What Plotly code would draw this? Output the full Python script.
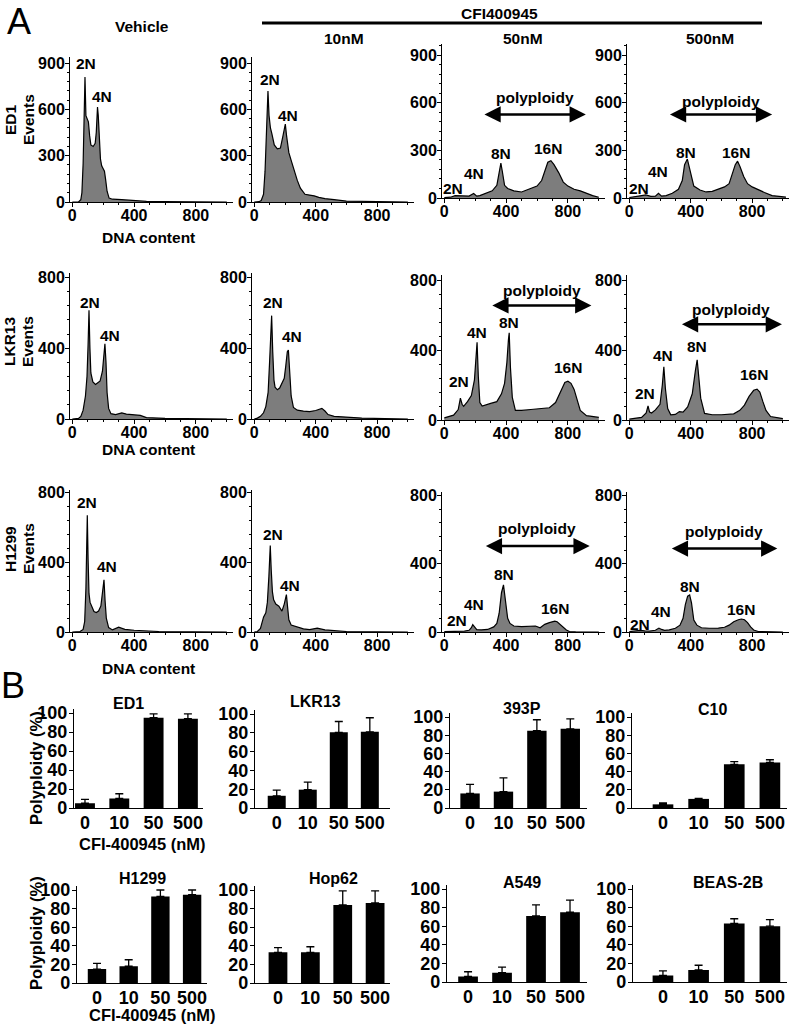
import plotly.graph_objects as go

W, H = 796, 1026
FONT = "Arial, Liberation Sans, sans-serif"

# ---------------- Panel A: DNA content histograms ----------------
ed1_veh_x = [0,40,55,62,70,76,82,88,95,104,112,120,135,148,155,160,163,168,175,182,190,200,208,215,225,238,260,320,400,480,600,800,1000]
ed1_veh_y = [0,0,15,60,250,560,810,560,535,520,430,370,360,380,450,560,615,560,420,280,235,220,200,150,70,25,18,15,10,4,2,1,0]
ed1_10_x = [0,30,45,60,70,80,89,96,105,115,130,150,170,185,195,202,210,225,240,260,280,300,330,360,390,420,460,520,600,800,1000]
ed1_10_y = [0,2,10,50,200,480,720,560,480,440,370,345,350,420,480,505,430,320,270,200,140,90,50,45,40,30,22,15,6,3,0]
ed1_50_x = [0,40,70,100,130,160,190,210,230,270,310,340,355,366,375,390,410,450,500,550,600,630,650,670,690,710,740,770,800,840,880,920,960,1000]
ed1_50_y = [2,5,15,14,10,12,28,12,15,30,45,80,170,220,170,80,60,45,38,55,75,110,170,225,235,210,160,100,75,55,45,28,15,5]
ed1_500_x = [0,50,80,108,140,170,190,210,240,280,320,345,360,378,395,420,460,500,540,580,620,650,670,690,705,720,745,770,800,840,880,930,980,1020]
ed1_500_y = [3,8,15,19,10,12,29,12,15,30,55,110,210,245,180,75,50,38,42,55,70,90,150,210,232,200,135,90,70,50,35,15,8,5]

lkr_veh_x = [0,40,55,70,85,95,102,108,114,120,133,150,165,180,195,205,211,218,225,235,250,280,320,350,400,440,480,600,1000]
lkr_veh_y = [0,3,15,50,130,240,420,615,400,260,210,195,205,215,270,360,425,320,150,60,30,25,35,28,25,20,8,3,0]
lkr_10_x = [0,20,40,60,75,90,100,107,113,120,128,135,150,165,180,195,205,215,222,230,240,255,280,320,360,400,425,440,460,480,520,600,700,1000]
lkr_10_y = [0,5,15,35,70,150,330,500,584,380,220,180,165,175,200,230,300,380,390,280,130,65,50,45,42,48,58,60,45,25,15,12,5,0]
lkr_50_x = [0,30,60,90,104,115,125,150,175,195,205,212,220,230,245,270,300,340,370,390,405,415,420,428,440,460,500,560,620,680,720,740,760,780,800,820,840,860,880,920,960,1000]
lkr_50_y = [12,18,28,60,125,90,78,105,140,230,380,445,250,100,80,85,95,105,150,210,330,460,499,300,130,55,55,60,65,70,100,140,185,215,222,210,175,110,55,25,18,15]
lkr_500_x = [0,40,80,110,122,132,145,170,200,215,225,235,250,270,300,326,350,380,410,430,442,452,465,490,540,600,680,720,750,780,810,832,850,870,890,920,960,1000]
lkr_500_y = [5,8,15,40,80,45,40,58,90,200,305,180,65,30,32,48,45,75,150,280,345,250,125,38,30,30,35,55,85,135,170,177,160,105,55,20,12,8]

h1299_veh_x = [0,50,70,80,88,93,97,102,108,115,125,140,155,170,185,195,200,205,212,220,235,260,300,340,400,480,560,1000]
h1299_veh_y = [0,3,15,60,250,500,670,420,220,170,150,118,112,120,150,230,290,300,180,80,25,12,28,15,10,8,3,0]
h1299_10_x = [0,20,40,60,75,85,95,100,104,110,118,126,140,160,180,195,202,209,216,225,240,270,320,360,410,460,500,600,1000]
h1299_10_y = [0,3,20,85,110,170,320,430,497,360,230,185,160,148,120,160,200,215,150,70,40,32,18,14,22,12,10,3,0]
h1299_50_x = [0,50,90,130,160,175,184,195,210,240,280,320,340,355,370,383,395,410,425,450,500,550,590,620,650,680,700,715,730,750,770,790,810,850,1000]
h1299_50_y = [2,3,6,5,10,25,43,30,14,12,15,30,50,110,230,276,200,80,50,35,32,34,35,25,45,55,62,64,60,45,30,12,3,1,0]
h1299_500_x = [0,40,71,100,130,170,193,210,230,260,300,330,350,365,380,393,405,420,440,470,520,580,620,650,680,710,730,750,770,790,810,840,1000]
h1299_500_y = [2,5,10,7,5,10,23,15,10,12,22,40,80,160,210,217,170,70,40,25,22,23,28,40,60,72,76,72,55,30,12,3,0]

hist_xticks = [0, 400, 800]
row1_yticks = [0, 300, 600, 900]
row23_yticks = [0, 400, 800]
cell_lines_A = ["ED1", "LKR13", "H1299"]
treatments = ["Vehicle", "10nM", "50nM", "500nM"]

# ---------------- Panel B: polyploidy bars ----------------
conc_labels = ["0", "10", "50", "500"]
bar_lines = ["ED1", "LKR13", "393P", "C10", "H1299", "Hop62", "A549", "BEAS-2B"]
ed1_pct = [5, 10, 95, 94];     ed1_err = [4, 5, 4, 5]
lkr13_pct = [13, 19.5, 80.5, 81]; lkr13_err = [6, 8, 11.5, 15]
p393_pct = [16, 18, 85, 87];   p393_err = [10, 15, 12, 11]
c10_pct = [4, 10, 48, 50];     c10_err = [1.5, 0.5, 3, 3]
h1299_pct = [15, 18, 93, 95];  h1299_err = [6, 7, 7, 5]
hop62_pct = [33, 33, 84, 86];  hop62_err = [5, 6, 15, 13]
a549_pct = [6, 10, 71, 75];    a549_err = [5, 6, 12, 13]
beas_pct = [7, 13, 63, 60];    beas_err = [5, 5, 5, 7]

fig = go.Figure()
layout = dict(width=W, height=H, margin=dict(l=0, r=0, t=0, b=0, pad=0),
              paper_bgcolor="white", plot_bgcolor="white", showlegend=False,
              font=dict(family=FONT, color="black"))
annotations = []

def dx(a, b):
    return [a / W, b / W]

def dy(top, bottom):
    return [1 - bottom / H, 1 - top / H]

def axkey(n, c):
    return f"{c}axis" if n == 1 else f"{c}axis{n}"

def axref(n, c):
    return c if n == 1 else f"{c}{n}"

def bold(size):
    return dict(family=FONT, size=size, color="black", weight="bold")

def txt(x, y, s, size=15, xref="paper", yref="paper", weight="bold", angle=0):
    if xref == "paper":
        x = x / W
    if yref == "paper":
        y = 1 - y / H
    annotations.append(dict(x=x, y=y, xref=xref, yref=yref, text=s, showarrow=False,
                            textangle=angle, xanchor="center", yanchor="middle",
                            font=dict(family=FONT, size=size, color="black", weight=weight)))

hist_data = [
    [(ed1_veh_x, ed1_veh_y), (ed1_10_x, ed1_10_y), (ed1_50_x, ed1_50_y), (ed1_500_x, ed1_500_y)],
    [(lkr_veh_x, lkr_veh_y), (lkr_10_x, lkr_10_y), (lkr_50_x, lkr_50_y), (lkr_500_x, lkr_500_y)],
    [(h1299_veh_x, h1299_veh_y), (h1299_10_x, h1299_10_y), (h1299_50_x, h1299_50_y), (h1299_500_x, h1299_500_y)],
]
col_px = [(70, 233), (252, 414), (442, 605), (627, 789)]
row_px = [
    [(57, 202, 940), (44, 198, 970)],
    [(273, 419, 825), (275, 420, 830)],
    [(490, 632, 815), (492, 632, 820)],
]
peak_labels = [
    [[("2N", 86, 900), ("4N", 195, 683)],
     [("2N", 104, 792), ("4N", 217, 564)],
     [("2N", 59, 61), ("4N", 190, 156), ("8N", 366, 282), ("16N", 673, 309)],
     [("2N", 61, 57), ("4N", 184, 168), ("8N", 372, 288), ("16N", 696, 288)]],
    [[("2N", 116, 659), ("4N", 247, 472)],
     [("2N", 124, 659), ("4N", 244, 466)],
     [("2N", 94, 221), ("4N", 212, 503), ("8N", 420, 560), ("16N", 800, 298)],
     [("2N", 105, 154), ("4N", 221, 369), ("8N", 442, 423), ("16N", 811, 260)]],
    [[("2N", 97, 743), ("4N", 227, 378)],
     [("2N", 122, 560), ("4N", 230, 267)],
     [("2N", 82, 68), ("4N", 195, 159), ("8N", 389, 334), ("16N", 714, 140)],
     [("2N", 67, 43), ("4N", 204, 120), ("8N", 393, 266), ("16N", 727, 134)]],
]
poly = {
    (0, 2): ((588, 636), (526, 250, 916)),
    (0, 3): ((595, 606), (526, 255, 930)),
    (1, 2): ((634, 739), (656, 301, 952)),
    (1, 3): ((663, 631), (548, 333, 994)),
    (2, 2): ((601, 606), (503, 259, 941)),
    (2, 3): ((616, 586), (489, 267, 964)),
}

n = 0
for r in range(3):
    for c in range(4):
        n += 1
        xs, ys = hist_data[r][c]
        top, bottom, ymax = row_px[r][0 if c < 2 else 1]
        fig.add_trace(go.Scatter(x=xs, y=ys, mode="lines", fill="tozeroy",
                                 fillcolor="#7d7d7d", line=dict(color="black", width=1.2),
                                 xaxis=axref(n, "x"), yaxis=axref(n, "y"), hoverinfo="skip"))
        yt = row1_yticks if r == 0 else row23_yticks
        ymin_dt = 60 if r == 0 else 80
        layout[axkey(n, "x")] = dict(domain=dx(*col_px[c]), range=[-15, 1040], anchor=axref(n, "y"),
                                     showline=True, linecolor="black", linewidth=1, showgrid=False,
                                     zeroline=False, ticks="outside", ticklen=4, tickcolor="black",
                                     tickmode="array", tickvals=hist_xticks, tickfont=bold(16),
                                     automargin=False, ticklabelstandoff=-5,
                                     minor=dict(tickmode="linear", tick0=0, dtick=100, ticks="outside",
                                                ticklen=2, tickcolor="black", showgrid=False))
        layout[axkey(n, "y")] = dict(domain=dy(top, bottom), range=[0, ymax], anchor=axref(n, "x"),
                                     showline=True, linecolor="black", linewidth=1, showgrid=False,
                                     zeroline=False, ticks="outside", ticklen=4, tickcolor="black",
                                     tickmode="array", tickvals=yt, tickfont=bold(16),
                                     automargin=False, ticklabelstandoff=-3,
                                     minor=dict(tickmode="linear", tick0=0, dtick=ymin_dt, ticks="outside",
                                                ticklen=2, tickcolor="black", showgrid=False))
        for (s, lx, ly) in peak_labels[r][c]:
            txt(lx, ly, s, 15.5, xref=axref(n, "x"), yref=axref(n, "y"))
        if (r, c) in poly:
            (tx, ty), (ay, x0, x1) = poly[(r, c)]
            txt(tx, ty, "polyploidy", 15.5, xref=axref(n, "x"), yref=axref(n, "y"))
            annotations.append(dict(x=x1, y=ay, ax=x0, ay=ay, xref=axref(n, "x"), yref=axref(n, "y"),
                                    axref=axref(n, "x"), ayref=axref(n, "y"), text="", showarrow=True,
                                    arrowhead=2, startarrowhead=2, arrowside="end+start",
                                    arrowwidth=2.5, arrowsize=1.3, startarrowsize=1.3,
                                    arrowcolor="black"))

txt(19, 21, "A", 36, weight="normal")
txt(142, 27, "Vehicle", 15.5)
txt(499, 13, "CFI400945", 15.5)
txt(344, 39, "10nM", 15.5)
txt(523, 39, "50nM", 15.5)
txt(710, 39, "500nM", 15.5)
row_center = [120, 342, 549]
for r in range(3):
    txt(10, row_center[r], cell_lines_A[r], 15.5, angle=-90)
    txt(28, row_center[r], "Events", 15.5, angle=-90)
for yy in [238, 449, 668]:
    txt(148, yy, "DNA content", 15.5)

bar_data = [(ed1_pct, ed1_err), (lkr13_pct, lkr13_err), (p393_pct, p393_err), (c10_pct, c10_err),
            (h1299_pct, h1299_err), (hop62_pct, hop62_err), (a549_pct, a549_err), (beas_pct, beas_err)]
bar_xpx = [(74, 203), (255, 390), (450, 587), (632, 787), (77, 207), (255, 390), (447, 587), (633, 787)]
bar_xrange = [(-0.32, 3.44), (-0.7, 3.65), (-0.6, 3.5), (-0.87, 3.48),
              (-0.63, 3.47), (-0.71, 3.46), (-0.62, 3.5), (-0.84, 3.48)]
bar_ypx = [(713, 808), (714, 808), (717, 808), (717, 808),
           (890, 983), (890, 983), (889, 982), (889, 982)]
bar_title_px = [(128, 703), (315, 701), (522, 708), (712, 709),
                (142, 878), (333, 878), (522, 882), (728, 882)]

for i in range(8):
    n += 1
    vals, errs = bar_data[i]
    fig.add_trace(go.Bar(x=conc_labels, y=vals, width=0.58, marker=dict(color="black", line=dict(width=0)),
                         error_y=dict(type="data", symmetric=False, array=errs, arrayminus=[0, 0, 0, 0],
                                      color="black", thickness=1.3, width=4),
                         xaxis=axref(n, "x"), yaxis=axref(n, "y"), hoverinfo="skip"))
    p100, p0 = bar_ypx[i]
    per = (p0 - p100) / 100.0
    ytop = 104
    top_px = p0 - ytop * per
    layout[axkey(n, "x")] = dict(domain=dx(*bar_xpx[i]), range=list(bar_xrange[i]), anchor=axref(n, "y"),
                                 type="category", showline=True, linecolor="black", linewidth=1.2,
                                 showgrid=False, zeroline=False, ticks="", tickfont=bold(18),
                                 automargin=False, ticklabelstandoff=-2)
    layout[axkey(n, "y")] = dict(domain=dy(top_px, p0), range=[0, ytop], anchor=axref(n, "x"),
                                 showline=True, linecolor="black", linewidth=1.2, showgrid=False,
                                 zeroline=False, ticks="outside", ticklen=4, tickcolor="black",
                                 tickmode="array", tickvals=[0, 20, 40, 60, 80, 100], tickfont=bold(18),
                                 automargin=False, ticklabelstandoff=-2)
    tx, ty = bar_title_px[i]
    txt(tx, ty, bar_lines[i], 16)

txt(13, 685, "B", 36, weight="normal")
txt(36, 768, "Polyploidy (%)", 16.5, angle=-90)
txt(36, 933, "Polyploidy (%)", 16.5, angle=-90)
txt(142, 844, "CFI-400945 (nM)", 16.5)
txt(152, 1015, "CFI-400945 (nM)", 16.5)

layout["annotations"] = annotations
layout["shapes"] = [dict(type="line", xref="paper", yref="paper", x0=262 / W, x1=762 / W,
                         y0=1 - 23 / H, y1=1 - 23 / H, line=dict(color="black", width=3))]
fig.update_layout(**layout)
fig.write_html("out.html", config={"displayModeBar": False},
               post_script="document.body.style.margin='0';document.body.style.padding='0';"
                           "document.documentElement.style.overflow='hidden';")
